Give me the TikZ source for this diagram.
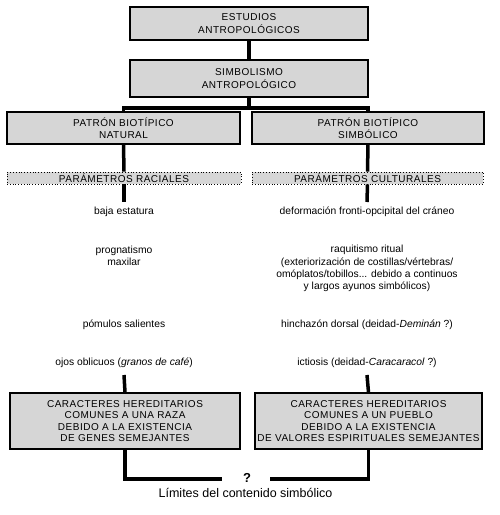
\documentclass[tikz,border=0pt]{standalone}
\usepackage{fontspec}
\setmainfont{Liberation Sans}
\newfontfamily\capsfont[LetterSpace=5]{Liberation Sans}
\usetikzlibrary{calc,backgrounds}
\tikzset{
  x=1pt, y=-1pt,
  box/.style={draw=black, line width=1.5pt, fill=gray!32, minimum width=#1, inner sep=0pt, align=center,
     font=\capsfont\fontsize{10}{12.5}\selectfont},
  dbox/.style={draw=black, dotted, line width=0.8pt, fill=gray!32, minimum width=#1, minimum height=12pt, inner sep=0pt,
     align=center, font=\capsfont\fontsize{10}{12}\selectfont},
  txt/.style={align=center, inner sep=0pt, font=\fontsize{10.3}{12.3}\selectfont},
  conn/.style={line width=3.5pt, draw=black, line join=miter},
}
\begin{document}
\begin{tikzpicture}
\useasboundingbox (0,0) rectangle (499,515);
% boxes
\node[box=238pt, minimum height=33pt] (top) at (249,23.5) {ESTUDIOS\\ANTROPOLÓGICOS};
\node[box=238pt, minimum height=37pt] (simb) at (249,78.5) {SIMBOLISMO\\ANTROPOLÓGICO};
\node[box=233pt, minimum height=32pt] (nat) at (123.5,128) {PATRÓN BIOTÍPICO\\NATURAL};
\node[box=232pt, minimum height=32pt] (sim) at (368,128) {PATRÓN BIOTÍPICO\\SIMBÓLICO};
\node[dbox=234pt] (rac) at (124,178) {PARÁMETROS RACIALES};
\node[dbox=231pt] (cul) at (367.5,178) {PARÁMETROS CULTURALES};
% left texts
\node[txt] (l1) at (124,212) {baja estatura};
\node[txt] (l2) at (124,256) {prognatismo\\maxilar};
\node[txt] (l3) at (124,325) {pómulos salientes};
\node[txt] (l4) at (124,363) {ojos oblicuos (\textit{granos de café})};
% right texts
\node[txt] (r1) at (367,212) {deformación fronti-opcipital del cráneo};
\node[txt] (r2) at (367,268.5) {raquitismo ritual\\(exteriorización de costillas/vértebras/\\omóplatos/tobillos... debido a continuos\\y largos ayunos simbólicos)};
\node[txt] (r3) at (367,325) {hinchazón dorsal (deidad-\textit{Deminán} ?)};
\node[txt] (r4) at (367,363) {ictiosis (deidad-\textit{Caracaracol} ?)};
% bottom boxes
\node[box=230pt, minimum height=56pt, font=\capsfont\fontsize{10}{11.4}\selectfont] (raza) at (125,421) {CARACTERES HEREDITARIOS\\COMUNES A UNA RAZA\\DEBIDO A LA EXISTENCIA\\DE GENES SEMEJANTES};
\node[box=227pt, minimum height=56pt, font=\capsfont\fontsize{10}{11.4}\selectfont] (pue) at (368.5,421) {CARACTERES HEREDITARIOS\\COMUNES A UN PUEBLO\\DEBIDO A LA EXISTENCIA\\DE VALORES ESPIRITUALES SEMEJANTES};
\node[inner sep=0pt, font=\bfseries\fontsize{13}{13}\selectfont] (q) at (247,477.5) {?};
\node[inner sep=0pt, font=\fontsize{12.5}{14}\selectfont] (lim) at (245.5,493) {Límites del contenido simbólico};
% coordinates
\coordinate (bar) at (249,108);
\coordinate (ls) at (124,202);
\coordinate (le) at (124,375);
\coordinate (rs) at (367,202);
\coordinate (re) at (367,375);
\coordinate (qL) at (222,479);
\coordinate (qR) at (270,479);
% connectors
\begin{pgfonlayer}{background}
\draw[conn] (top.south) -- (simb.north);
\draw[conn] (simb.south) -- (bar);
\draw[conn] (nat.north) |- (bar) -| (sim.north);
\draw[conn] (nat.south) -- (rac.north);
\draw[conn] (sim.south) -- (cul.north);
\draw[conn] (rac.south) -- (ls);
\draw[conn] (cul.south) -- (rs);
\draw[conn] (le) -- (raza.north);
\draw[conn] (re) -- (pue.north);
\draw[conn] (raza.south) |- (qL);
\draw[conn] (pue.south) |- (qR);
\end{pgfonlayer}
\end{tikzpicture}
\end{document}
